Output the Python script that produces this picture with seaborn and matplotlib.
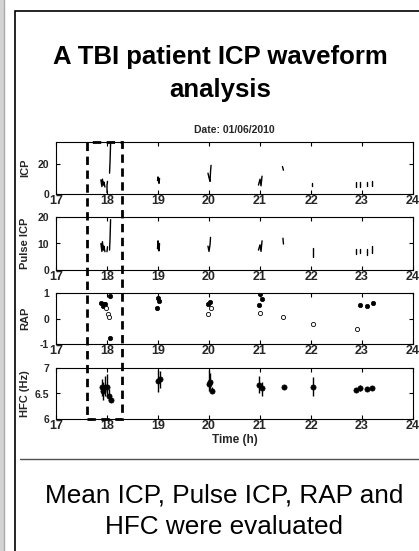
import matplotlib
matplotlib.use("Agg")
import numpy as np
import pandas as pd
import matplotlib.pyplot as plt
import matplotlib.patches as patches
import matplotlib.transforms as mtransforms
from matplotlib import font_manager
import seaborn as sns

# Textos
titulo_lineas = ["A TBI patient ICP waveform", "analysis"]
fecha = "Date: 01/06/2010"
pie_lineas = ["Mean ICP, Pulse ICP, RAP and", "HFC were evaluated"]
etiquetas_y = ["ICP", "Pulse ICP", "RAP", "HFC (Hz)"]
etiqueta_x = "Time (h)"
ticks_x = [17, 18, 19, 20, 21, 22, 23, 24]

# ICP medio: tramos cortos de registro (tiempo en h)
icp_t = [17.88, 17.90, 17.91, 17.93, 17.94, 17.96,
         18.00, 18.00, 18.01,
         18.05, 18.06, 18.07,
         18.99, 19.00, 19.02, 19.03,
         19.98, 20.00, 20.02, 20.03, 20.04,
         20.97, 21.00, 21.02, 21.04,
         21.44, 21.46,
         22.02, 22.02,
         22.88, 22.88,
         22.97, 22.97,
         23.09, 23.09,
         23.20, 23.20]
icp_v = [9.5, 5.0, 10.0, 6.0, 8.0, 4.7,
         1.0, 6.0, 8.5,
         14.0, 22.0, 34.0,
         9.0, 11.5, 7.2, 10.5,
         14.0, 11.0, 8.5, 15.0, 19.3,
         6.0, 10.0, 5.5, 12.0,
         18.5, 16.0,
         7.3, 5.3,
         7.8, 5.0,
         8.2, 5.0,
         8.3, 5.3,
         8.9, 5.3]
icp_tramo = [0] * 6 + [1] * 3 + [2] * 3 + [3] * 4 + [4] * 5 + [5] * 4 + [6] * 2 + \
            [7] * 2 + [8] * 2 + [9] * 2 + [10] * 2 + [11] * 2

# Pulse ICP
pulso_t = [17.88, 17.90, 17.91, 17.93, 17.94, 17.96,
           18.00, 18.01,
           18.05, 18.06, 18.07,
           18.99, 19.00, 19.02, 19.03,
           19.98, 20.00, 20.02, 20.03,
           20.97, 21.00, 21.02, 21.04,
           21.45, 21.46,
           22.03, 22.03,
           22.88, 22.88,
           22.97, 22.97,
           23.09, 23.09,
           23.20, 23.20]
pulso_v = [10.0, 7.0, 10.7, 7.5, 9.0, 6.9,
           6.9, 8.8,
           7.5, 12.0, 19.0,
           8.0, 11.0, 7.2, 10.0,
           9.0, 7.0, 9.5, 12.3,
           7.5, 9.5, 7.0, 11.0,
           12.0, 9.8,
           8.3, 4.9,
           8.0, 6.2,
           8.0, 6.4,
           8.0, 5.6,
           9.0, 6.4]
pulso_tramo = [0] * 6 + [1] * 2 + [2] * 3 + [3] * 4 + [4] * 4 + [5] * 4 + [6] * 2 + \
              [7] * 2 + [8] * 2 + [9] * 2 + [10] * 2 + [11] * 2

# RAP: puntos rellenos y vacios
rap_lleno_t = [17.89, 17.92, 17.95, 17.97, 18.06, 18.06, 19.00, 19.02, 18.99,
               19.98, 20.01, 21.00, 21.03, 20.98, 22.97, 23.09, 23.21]
rap_lleno_v = [0.60, 0.50, 0.58, 0.55, 0.88, -0.76, 0.80, 0.70, 0.41,
               0.58, 0.63, 0.96, 0.76, 0.52, 0.53, 0.49, 0.62]
rap_vacio_t = [17.98, 18.02, 18.03, 19.99, 20.04, 21.00, 21.46, 22.03, 22.90]
rap_vacio_v = [0.40, 0.16, 0.06, 0.16, 0.40, 0.21, 0.05, -0.21, -0.41]

# HFC: media y rango
hfc_t = [17.90, 17.93, 17.96, 18.00, 18.04, 18.08, 19.00, 19.03, 20.00, 20.02,
         20.05, 20.98, 21.03, 21.48, 22.04, 22.88, 22.97, 23.09, 23.20]
hfc_v = [6.62, 6.55, 6.62, 6.63, 6.45, 6.38, 6.75, 6.78, 6.68, 6.72,
         6.55, 6.66, 6.60, 6.62, 6.63, 6.57, 6.60, 6.59, 6.60]
hfc_min = [6.45, 6.38, 6.45, 6.45, 6.35, 6.33, 6.53, 6.60, 6.55, 6.58,
           6.50, 6.50, 6.45, 6.62, 6.45, 6.54, 6.55, 6.57, 6.58]
hfc_max = [6.78, 6.72, 6.85, 6.88, 6.58, 6.42, 6.97, 6.95, 6.97, 6.90,
           6.62, 6.85, 6.72, 6.62, 6.82, 6.60, 6.66, 6.62, 6.62]

# Ventana seleccionada (h)
ventana = (17.6, 18.3)

sns.set_style("white")
fuentes = {f.name for f in font_manager.fontManager.ttflist}
fuente_graf = "Liberation Sans Narrow" if "Liberation Sans Narrow" in fuentes else "Liberation Sans"
plt.rcParams["font.family"] = ["Liberation Sans", "DejaVu Sans"]

W, H = 419, 551
fig = plt.figure(figsize=(W / 100, H / 100), dpi=100)
fig.patch.set_facecolor("white")

# marco de la diapositiva
fig.patches.append(patches.Rectangle((0, 0), 4.5 / W, 1, transform=fig.transFigure,
                                     facecolor="#d4d4d4", edgecolor="none"))
fig.add_artist(plt.Line2D([4 / W, 4 / W], [0, 1], color="#a9a9a9", lw=1))
fig.add_artist(patches.Rectangle((15 / W, -0.2), 1.2, 1.2 - 11 / H,
                                 transform=fig.transFigure, fill=False,
                                 edgecolor="black", lw=1.2, clip_on=False))
fig.add_artist(plt.Line2D([20 / W, 1], [1 - 459 / H] * 2, color="#505050", lw=1))

for i, linea in enumerate(titulo_lineas):
    fig.text(220 / W, 1 - [64, 97][i] / H, linea, ha="center", va="baseline",
             fontsize=18.5, fontweight="bold", color="black")
for i, linea in enumerate(pie_lineas):
    fig.text(224 / W, 1 - [502, 534][i] / H, linea, ha="center", va="baseline",
             fontsize=18.8, color="black")

# ejes
izq, der = 56, 413
filas = [(142, 194), (217, 270), (293, 344), (368, 419)]
ejes = []
for top, bot in filas:
    ax = fig.add_axes([izq / W, 1 - bot / H, (der - izq) / W, (bot - top) / H])
    ejes.append(ax)

df_icp = pd.DataFrame({"t": icp_t, "v": icp_v, "tramo": icp_tramo})
df_pulso = pd.DataFrame({"t": pulso_t, "v": pulso_v, "tramo": pulso_tramo})

sns.lineplot(data=df_icp, x="t", y="v", units="tramo", estimator=None, sort=False,
             color="black", lw=1.0, ax=ejes[0])
sns.lineplot(data=df_pulso, x="t", y="v", units="tramo", estimator=None, sort=False,
             color="black", lw=1.0, ax=ejes[1])
sns.scatterplot(x=rap_lleno_t, y=rap_lleno_v, marker="o", s=10, color="black",
                edgecolor="black", linewidth=0.5, ax=ejes[2])
sns.scatterplot(x=rap_vacio_t, y=rap_vacio_v, marker="o", s=9, facecolor="white",
                edgecolor="black", linewidth=0.6, ax=ejes[2])
ejes[3].vlines(hfc_t, hfc_min, hfc_max, color="black", lw=1.0)
sns.scatterplot(x=hfc_t, y=hfc_v, marker="o", s=14, color="black",
                edgecolor="black", linewidth=0.5, ax=ejes[3], zorder=3)

limites_y = [(0, 35), (0, 20), (-1, 1), (6, 7)]
ticks_y = [[0, 20], [0, 10, 20], [-1, 0, 1], [6, 6.5, 7]]
etq_ticks_y = [["0", "20"], ["0", "10", "20"], ["-1", "0", "1"], ["6", "6.5", "7"]]

for ax, lim, ty, ety, lab in zip(ejes, limites_y, ticks_y, etq_ticks_y, etiquetas_y):
    ax.set_xlim(17, 24)
    ax.set_ylim(*lim)
    ax.set_xticks(ticks_x)
    ax.set_xticklabels([str(t) for t in ticks_x], fontsize=9, fontweight="bold",
                       family=fuente_graf)
    ax.set_yticks(ty)
    ax.set_yticklabels(ety, fontsize=7.5, fontweight="bold", family=fuente_graf)
    ax.tick_params(axis="both", direction="in", length=3, width=0.8, color="black",
                   top=True, right=True, bottom=True, left=True)
    ax.tick_params(axis="x", pad=1)
    ax.tick_params(axis="y", pad=5)
    ax.set_xlabel("")
    ax.set_ylabel(lab, fontsize=8, fontweight="bold", family=fuente_graf)
    ax.yaxis.set_label_coords((30 - izq) / (der - izq), 0.5)
    for s in ax.spines.values():
        s.set_color("black")
        s.set_linewidth(0.8)
    ax.set_facecolor("white")

ejes[3].set_xlabel(etiqueta_x, fontsize=8.5, fontweight="bold", family=fuente_graf,
                   labelpad=1)
fig.text((izq + der) / 2 / W, 1 - 130 / H, fecha, ha="center", va="center",
         fontsize=7.5, fontweight="bold", family=fuente_graf)

# ventana seleccionada (rectangulo discontinuo)
trans = mtransforms.blended_transform_factory(ejes[0].transData, fig.transFigure)
y_inf = 1 - filas[3][1] / H
y_sup = 1 - filas[0][0] / H
fig.add_artist(patches.Rectangle((ventana[0], y_inf), ventana[1] - ventana[0], y_sup - y_inf,
                                 transform=trans, fill=False, edgecolor="black",
                                 lw=2.0, linestyle=(0, (3, 2)), clip_on=False, zorder=10))

fig.savefig("out.png", dpi=100)
